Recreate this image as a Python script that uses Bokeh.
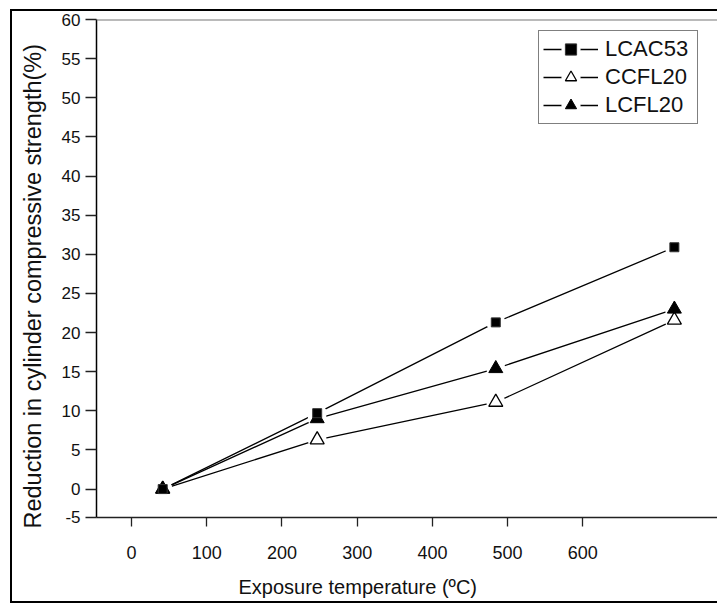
from bokeh.plotting import figure
from bokeh.models import (Range1d, LinearAxis, FixedTicker, Span, Title,
                          Legend, LegendItem)
from bokeh.embed import file_html
from bokeh.resources import INLINE

# ---------------- data ----------------
temperature = [27, 200, 400, 600]
lcac53 = [0.0, 9.7, 21.3, 30.9]
ccfl20 = [0.0, 6.3, 11.1, 21.6]
lcfl20 = [0.0, 9.0, 15.4, 23.0]

x_tick_values = [0, 100, 200, 300, 400, 500, 600]
y_tick_values = [0, 5, 10, 15, 20, 25, 30, 35, 40, 45, 50, 55, 60]
y_bottom_label = "-5"

x_title = "Exposure temperature (ºC)"
y_title = "Reduction in cylinder compressive strength(%)"
series_names = ["LCAC53", "CCFL20", "LCFL20"]

# ---------------- layout ----------------
W, H = 717, 603
FL, FT, FB = 96, 19, 86
FONT = "Liberation Sans"

X0, X1 = -47.15, 648.3      # data scale of the marks
TX0, TX1 = -46.53, 779.0    # scale of the printed tick labels
Y0, Y1 = -3.63, 60.0

p = figure(width=W, height=H, x_range=Range1d(X0, X1), y_range=Range1d(Y0, Y1),
           x_axis_location=None, y_axis_location="left",
           output_backend="svg", toolbar_location=None,
           min_border_left=FL, min_border_top=FT, min_border_bottom=FB,
           min_border_right=0)
p.extra_x_ranges = {"ticks": Range1d(TX0, TX1)}
p.xgrid.visible = False
p.ygrid.visible = False
p.outline_line_color = None
p.background_fill_color = "white"
p.border_fill_alpha = 0
p.styles = {"box-shadow": "inset 10px 0 0 0 #fff, inset 0 9px 0 0 #fff, "
                          "inset 12px 0 0 0 #000, inset 0 11px 0 0 #000, "
                          "inset 0 -2px 0 0 #000"}

# bottom axis (printed ticks)
xaxis = LinearAxis(x_range_name="ticks", ticker=FixedTicker(ticks=x_tick_values))
xaxis.axis_line_color = "#222"
xaxis.axis_line_width = 1.5
xaxis.major_tick_line_color = "#222"
xaxis.major_tick_line_width = 1.3
xaxis.major_tick_out = 9
xaxis.major_tick_in = 0
xaxis.minor_tick_line_color = None
xaxis.major_label_text_font = FONT
xaxis.major_label_text_font_size = "18px"
xaxis.major_label_text_color = "#111"
xaxis.major_label_standoff = 19
# blank spacer label pushes the title below down a little
xaxis.axis_label = " "
xaxis.axis_label_text_font_size = "2px"
xaxis.axis_label_standoff = 7
p.add_layout(xaxis, "below")

# left axis
yaxis = p.yaxis[0]
yaxis.ticker = FixedTicker(ticks=[Y0 + 0.03] + y_tick_values)
yaxis.major_label_overrides = {Y0 + 0.03: y_bottom_label}
yaxis.axis_line_color = "#000"
yaxis.axis_line_width = 1.5
yaxis.major_tick_line_color = "#222"
yaxis.major_tick_line_width = 1.3
yaxis.major_tick_out = 11
yaxis.major_tick_in = 0
yaxis.minor_tick_line_color = None
yaxis.major_label_text_font = FONT
yaxis.major_label_text_font_size = "17px"
yaxis.major_label_text_color = "#111"
yaxis.major_label_standoff = 5

# top frame line
p.add_layout(Span(location=Y1, dimension="width", line_color="#777", line_width=2))

# ---------------- marks ----------------
lines, halos = [], []
for ys in (lcac53, ccfl20, lcfl20):
    lines.append(p.line(temperature, ys, line_color="black", line_width=1.3))
for ys in (lcac53, ccfl20, lcfl20):
    halos.append(p.scatter(temperature, ys, marker="circle", size=11,
                           fill_color="white", line_color="white", line_width=8))
m_cc = p.scatter(temperature, ccfl20, marker="triangle", size=14,
                 fill_color="white", line_color="black", line_width=1.3)
m_lc = p.scatter(temperature, lcfl20, marker="triangle", size=14,
                 fill_color="black", line_color="black")
m_la = p.scatter(temperature, lcac53, marker="square", size=9,
                 fill_color="black", line_color="#333")
marks = [m_la, m_cc, m_lc]

items = [LegendItem(label=series_names[i], renderers=[lines[i], halos[i], marks[i]])
         for i in range(3)]
legend = Legend(items=items, location=(442, 393))
legend.border_line_color = "black"
legend.border_line_width = 1.2
legend.background_fill_color = "white"
legend.background_fill_alpha = 1
legend.label_text_font = FONT
legend.label_text_font_size = "22px"
legend.label_text_color = "#111"
legend.glyph_width = 55
legend.glyph_height = 28
legend.label_height = 28
legend.label_width = 88
legend.label_standoff = 7
legend.spacing = 0
legend.padding = 4
legend.margin = 0
p.add_layout(legend)

# ---------------- axis titles ----------------
p.add_layout(Title(text=y_title, align="left", offset=-11, standoff=26,
                   text_font=FONT, text_font_size="23.5px",
                   text_font_style="normal", text_color="#111"), "left")
p.add_layout(Title(text=x_title, align="left", offset=142, standoff=0,
                   text_font=FONT, text_font_size="20px",
                   text_font_style="normal", text_color="#111"), "below")

open("out.html", "w").write(file_html(p, INLINE))
